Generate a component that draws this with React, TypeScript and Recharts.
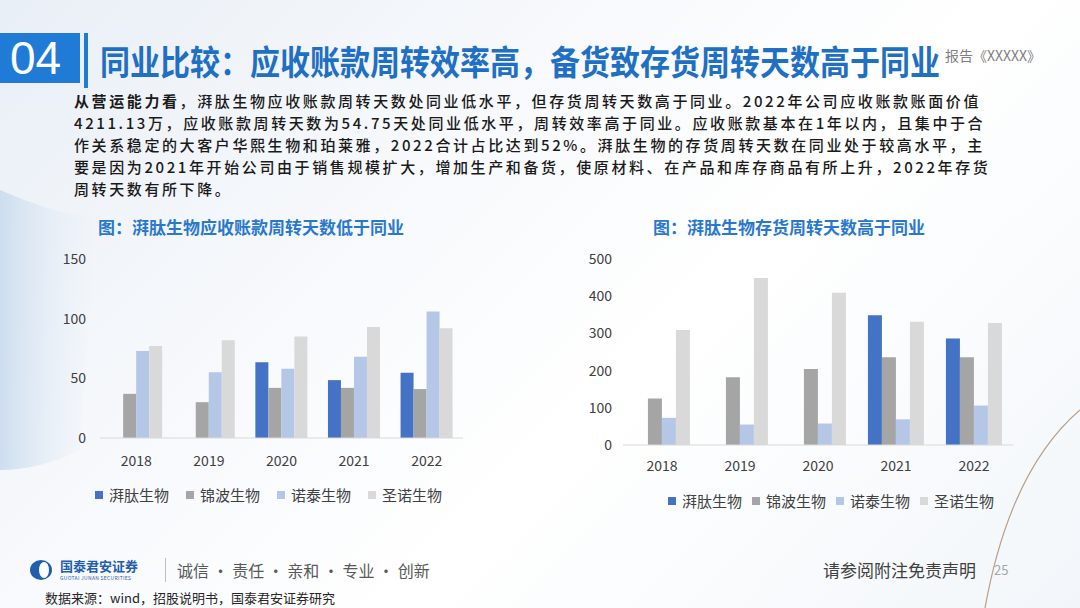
import { BarChart, Bar, XAxis, YAxis, Legend } from "recharts";

const years = ["2018", "2019", "2020", "2021", "2022"];
const seriesNames = ["湃肽生物", "锦波生物", "诺泰生物", "圣诺生物"];
const seriesColors = ["#4472c4", "#a5a5a5", "#b4c7e7", "#d9d9d9"];

// 应收账款周转天数
const arPaitai = [null, null, 63.5, 48.5, 54.75];
const arJinbo = [37, 30, 42, 42, 41];
const arNuotai = [73, 55, 58, 68, 106];
const arShengnuo = [77, 82, 85, 93, 92];
const arTicks = [0, 50, 100, 150];

// 存货周转天数
const invPaitai = [null, null, null, 349, 286];
const invJinbo = [125, 182, 204, 236, 236];
const invNuotai = [73, 55, 58, 69, 106];
const invShengnuo = [309, 449, 409, 331, 328];
const invTicks = [0, 100, 200, 300, 400, 500];

const bodyLines = [
  "，湃肽生物应收账款周转天数处同业低水平，但存货周转天数高于同业。2022年公司应收账款账面价值",
  "4211.13万，应收账款周转天数为54.75天处同业低水平，周转效率高于同业。应收账款基本在1年以内，且集中于合",
  "作关系稳定的大客户华熙生物和珀莱雅，2022合计占比达到52%。湃肽生物的存货周转天数在同业处于较高水平，主",
  "要是因为2021年开始公司由于销售规模扩大，增加生产和备货，使原材料、在产品和库存商品有所上升，2022年存货",
  "周转天数有所下降。",
];

const toRows = (a: (number | null)[], b: (number | null)[], c: (number | null)[], d: (number | null)[]) =>
  years.map((y, i) => ({ year: y, s0: a[i], s1: b[i], s2: c[i], s3: d[i] }));

const arData = toRows(arPaitai, arJinbo, arNuotai, arShengnuo);
const invData = toRows(invPaitai, invJinbo, invNuotai, invShengnuo);

const FONT = "'Noto Sans CJK SC', 'Noto Sans', sans-serif";

// legend keeps the series order of the source slide
function SlideLegend({ gap }: { gap: number }) {
  return (
    <div style={{ display: "flex", gap, fontSize: 15, color: "#404040", lineHeight: "18px" }}>
      {seriesNames.map((n, i) => (
        <span key={n} style={{ display: "flex", alignItems: "center" }}>
          <span style={{ width: 8, height: 8, background: seriesColors[i], marginRight: 6 }} />
          {n}
        </span>
      ))}
    </div>
  );
}

function TurnoverChart({ data, ticks, max, width, height, margin, yWidth, yMargin, xMargin, legendStyle, legendGap }: any) {
  return (
    <BarChart width={width} height={height} data={data} margin={margin} barCategoryGap="14%" barGap={0}>
      <XAxis
        dataKey="year"
        height={30}
        tickLine={false}
        tickSize={0}
        tickMargin={xMargin}
        axisLine={{ stroke: "#d9d9d9" }}
        tick={{ fill: "#404040", fontSize: 14 }}
      />
      <YAxis
        domain={[0, max]}
        ticks={ticks}
        width={yWidth}
        axisLine={false}
        tickLine={false}
        tickSize={0}
        tickMargin={yMargin}
        tick={{ fill: "#404040", fontSize: 14 }}
      />
      <Legend
        height={30}
        verticalAlign="bottom"
        wrapperStyle={legendStyle}
        content={() => <SlideLegend gap={legendGap} />}
      />
      {seriesNames.map((n, i) => (
        <Bar key={n} dataKey={`s${i}`} name={n} fill={seriesColors[i]} isAnimationActive={false} />
      ))}
    </BarChart>
  );
}

export default function App() {
  return (
    <div
      style={{
        position: "absolute",
        left: 0,
        top: 0,
        width: 1080,
        height: 608,
        overflow: "hidden",
        fontFamily: FONT,
        background: "linear-gradient(135deg, #e9eff6 0%, #f7f9fc 35%, #ffffff 60%, #f2f6fa 100%)",
      }}
    >
      <svg width={1080} height={608} style={{ position: "absolute", left: 0, top: 0 }}>
        <defs>
          <linearGradient id="leftGlow" x1="0" y1="0" x2="1" y2="0">
            <stop offset="0%" stopColor="#c9dbee" stopOpacity={0.9} />
            <stop offset="100%" stopColor="#e6eef7" stopOpacity={0} />
          </linearGradient>
        </defs>
        <path d="M0 190 Q 70 220 95 215 L 80 450 Q 40 470 0 470 Z" fill="url(#leftGlow)" />
        <path d="M1080 410 Q 1010 470 985 608" stroke="#b89f86" strokeWidth={1.2} fill="none" />
      </svg>

      {/* header */}
      <div style={{ position: "absolute", left: 0, top: 33, width: 80, height: 50, background: "#1f7bd6" }} />
      <div
        style={{
          position: "absolute",
          left: 10,
          top: 28,
          fontSize: 46,
          color: "#fff",
          fontFamily: "'Liberation Sans', Arial, sans-serif",
          lineHeight: "60px",
        }}
      >
        04
      </div>
      <div style={{ position: "absolute", left: 84, top: 33, width: 4, height: 55, background: "#1f7bd6" }} />
      <div
        style={{
          position: "absolute",
          left: 945,
          top: 45,
          fontSize: 14,
          color: "#7f7f7f",
          whiteSpace: "nowrap",
        }}
      >
        报告《XXXXX》
      </div>
      <div
        style={{
          position: "absolute",
          left: 100,
          top: 40,
          fontSize: 30,
          fontWeight: 700,
          color: "#1f6fc2",
          whiteSpace: "nowrap",
          lineHeight: "40px",
          transform: "scaleY(1.12)",
          transformOrigin: "left center",
        }}
      >
        同业比较：应收账款周转效率高，备货致存货周转天数高于同业
      </div>

      {/* body */}
      <div
        style={{
          position: "absolute",
          left: 74,
          top: 90,
          fontSize: 15,
          letterSpacing: 2.6,
          fontWeight: 500,
          color: "#1a1a1a",
          lineHeight: "22px",
        }}
      >
        {bodyLines.map((l, i) => (
          <div key={i} style={{ whiteSpace: "nowrap", height: 22 }}>
            {i === 0 && <b>从营运能力看</b>}
            {l}
          </div>
        ))}
      </div>

      {/* chart titles */}
      <div style={{ position: "absolute", left: 98, top: 214, fontSize: 17, fontWeight: 700, color: "#2a78cc", whiteSpace: "nowrap" }}>
        图：湃肽生物应收账款周转天数低于同业
      </div>
      <div style={{ position: "absolute", left: 653, top: 214, fontSize: 17, fontWeight: 700, color: "#2a78cc", whiteSpace: "nowrap" }}>
        图：湃肽生物存货周转天数高于同业
      </div>

      <div style={{ position: "absolute", left: 40, top: 245 }}>
        <TurnoverChart
          data={arData}
          ticks={arTicks}
          max={150}
          width={440}
          height={270}
          margin={{ top: 14, right: 17, left: 10, bottom: 17 }}
          yWidth={50}
          yMargin={14}
          xMargin={18}
          legendStyle={{ top: 241, left: 55, width: 380 }}
          legendGap={17}
        />
      </div>
      <div style={{ position: "absolute", left: 570, top: 245 }}>
        <TurnoverChart
          data={invData}
          ticks={invTicks}
          max={500}
          width={450}
          height={280}
          margin={{ top: 14, right: 7, left: 8, bottom: 20 }}
          yWidth={45}
          yMargin={11}
          xMargin={16}
          legendStyle={{ top: 247, left: 98, width: 340 }}
          legendGap={10}
        />
      </div>

      {/* footer */}
      <svg width={30} height={24} style={{ position: "absolute", left: 28, top: 558 }}>
        <ellipse cx={13} cy={12} rx={11} ry={10} fill="#1f5fae" />
        <ellipse cx={16} cy={12} rx={5} ry={8} fill="#ffffff" />
      </svg>
      <div style={{ position: "absolute", left: 60, top: 558, fontSize: 13, fontWeight: 700, color: "#1f5fae", whiteSpace: "nowrap", lineHeight: "15px" }}>
        国泰君安证券
      </div>
      <div style={{ position: "absolute", left: 60, top: 574, fontSize: 5, color: "#1f5fae", whiteSpace: "nowrap", letterSpacing: 0.3 }}>
        GUOTAI JUNAN SECURITIES
      </div>
      <div style={{ position: "absolute", left: 165, top: 558, width: 1, height: 24, background: "#bfbfbf" }} />
      <div style={{ position: "absolute", left: 177, top: 558, fontSize: 16, color: "#595959", whiteSpace: "nowrap", lineHeight: "24px" }}>
        诚信 · 责任 · 亲和 · 专业 · 创新
      </div>
      <div style={{ position: "absolute", left: 823, top: 558, fontSize: 17, color: "#404040", whiteSpace: "nowrap", lineHeight: "24px" }}>
        请参阅附注免责声明
      </div>
      <div style={{ position: "absolute", left: 994, top: 560, fontSize: 13, color: "#a6a6a6", lineHeight: "20px" }}>25</div>
      <div style={{ position: "absolute", left: 45, top: 589, fontSize: 13, color: "#262626", whiteSpace: "nowrap", lineHeight: "18px" }}>
        数据来源：wind，招股说明书，国泰君安证券研究
      </div>
    </div>
  );
}
